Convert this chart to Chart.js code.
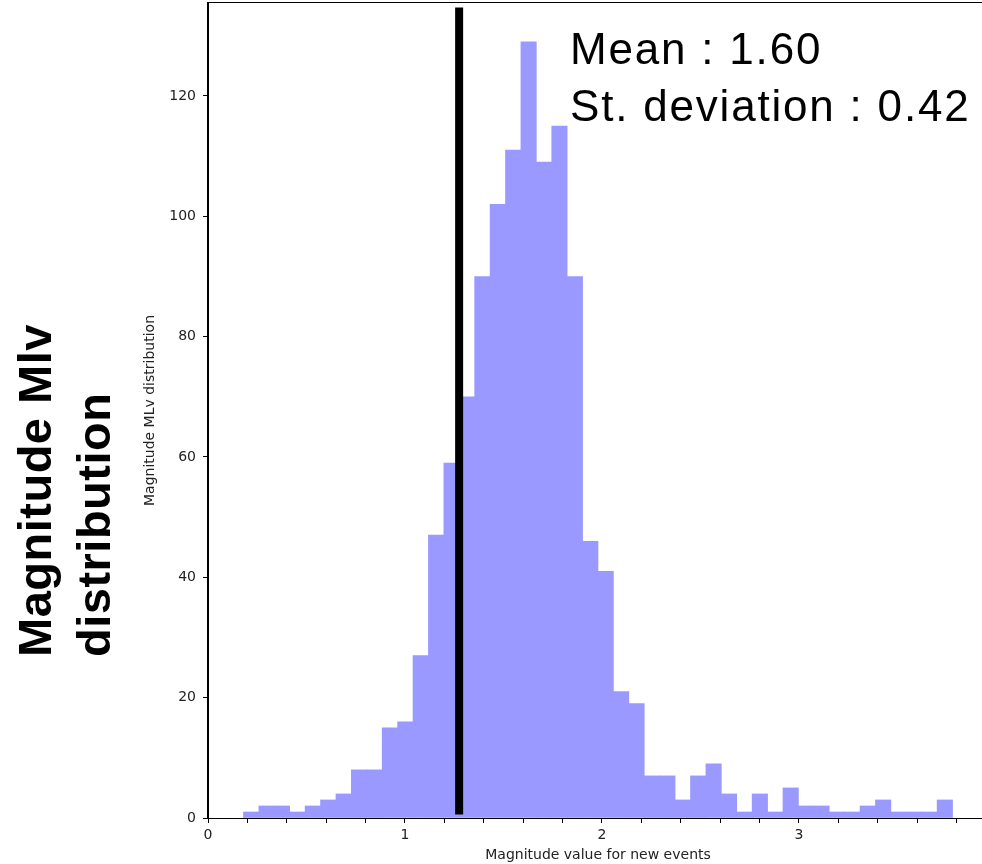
<!DOCTYPE html>
<html lang="en">
<head>
<meta charset="UTF-8">
<title>Magnitude MLv distribution</title>
<script src="https://cdn.jsdelivr.net/npm/chart.js@4/dist/chart.umd.min.js"></script>
<style>
  html, body { margin: 0; padding: 0; background: #fff; overflow: hidden; }
  #wrap { width: 992px; height: 864px; }
</style>
</head>
<body>
<div id="wrap"><canvas id="chart" width="992" height="864"></canvas></div>
<script>
// histogram of magnitudes, 46 equal bins between binMin and binMax
const binMin = 0.18;
const binMax = 3.78;
const counts = [1, 2, 2, 1, 2, 3, 4, 8, 8, 15, 16, 27, 47, 59, 70, 90, 102, 111, 129, 109,
  115, 90, 46, 41, 21, 19, 7, 7, 3, 7, 9, 4, 1, 4, 1, 5, 2, 2, 1, 1, 2, 3, 1, 1, 1, 3];
// black marker line (x position, bottom, top)
const markerX = 1.275;
const markerY = [0.6, 134.7];
const statLines = ['Mean : 1.60', 'St. deviation : 0.42'];
const sideTitle = ['Magnitude Mlv', 'distribution'];
const xTitle = 'Magnitude value for new events';
const yTitle = 'Magnitude MLv distribution';
const xRange = [0, 3.96];
const yRange = [0, 135.45];

const binW = (binMax - binMin) / counts.length;
const bars = counts.map((c, i) => ({ x: binMin + binW * (i + 0.5), y: c }));

const tickFont = { family: '"DejaVu Sans"', size: 14 };

const textPlugin = {
  id: 'extras',
  afterDraw(chart) {
    const ctx = chart.ctx;
    const a = chart.chartArea;
    ctx.save();
    ctx.strokeStyle = '#000';
    ctx.lineWidth = 1;
    ctx.strokeRect(a.left - 0.5, a.top - 0.5, a.right - a.left + 1, a.bottom - a.top + 1);

    ctx.fillStyle = '#000';
    ctx.font = '44px "Liberation Sans"';
    ctx.letterSpacing = '1.8px';
    ctx.textBaseline = 'alphabetic';
    ctx.fillText(statLines[0], 570, 64);
    ctx.fillText(statLines[1], 570, 121);

    ctx.font = 'bold 47px "Liberation Sans"';
    ctx.letterSpacing = '0.5px';
    ctx.translate(51, 657);
    ctx.rotate(-Math.PI / 2);
    ctx.fillText(sideTitle[0], 0, 0);
    ctx.fillText(sideTitle[1], 0, 59);
    ctx.restore();
  }
};

function noPad(s) {
  s.paddingTop = 0;
  s.paddingBottom = 0;
  s.paddingLeft = 0;
  s.paddingRight = 0;
}

new Chart(document.getElementById('chart'), {
  type: 'bar',
  data: {
    datasets: [
      {
        type: 'line',
        data: [{ x: markerX, y: markerY[0] }, { x: markerX, y: markerY[1] }],
        borderColor: '#000',
        borderWidth: 8,
        borderCapStyle: 'butt',
        pointRadius: 0,
        order: 0
      },
      {
        type: 'bar',
        data: bars,
        backgroundColor: '#9999ff',
        borderWidth: 0,
        barPercentage: 1,
        categoryPercentage: 1,
        order: 1
      }
    ]
  },
  options: {
    responsive: false,
    animation: false,
    layout: { padding: { left: 0, top: 3, right: 4, bottom: 0 } },
    plugins: { legend: { display: false }, tooltip: { enabled: false } },
    scales: {
      x: {
        type: 'linear',
        min: xRange[0],
        max: xRange[1],
        offset: false,
        border: { display: true, color: '#000', width: 1 },
        grid: { offset: false, drawOnChartArea: false, drawTicks: true, tickLength: 5, color: '#000' },
        ticks: {
          stepSize: 0.2,
          includeBounds: false,
          autoSkip: false,
          maxRotation: 0,
          maxTicksLimit: 100,
          padding: 4,
          color: '#222',
          font: tickFont,
          callback: v => Math.abs(v - Math.round(v)) < 1e-6 ? String(Math.round(v)) : ''
        },
        title: { display: true, text: xTitle, color: '#222', font: tickFont, padding: { top: 0, bottom: 0 } },
        afterFit: s => { s.height = 46; noPad(s); }
      },
      y: {
        min: yRange[0],
        max: yRange[1],
        border: { display: true, color: '#000', width: 1 },
        grid: { offset: false, drawOnChartArea: false, drawTicks: true, tickLength: 5, color: '#000' },
        ticks: {
          stepSize: 20,
          includeBounds: false,
          padding: 7,
          color: '#222',
          font: tickFont
        },
        title: { display: true, text: yTitle, color: '#222', font: tickFont, padding: { top: 141.6, bottom: 0 } },
        afterFit: s => { s.width = 208; noPad(s); }
      }
    }
  },
  plugins: [textPlugin]
});
</script>
</body>
</html>
